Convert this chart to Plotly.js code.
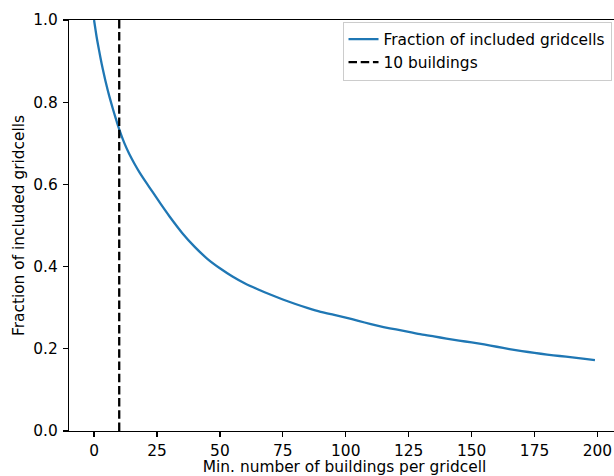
<!DOCTYPE html>
<html>
<head>
<meta charset="utf-8">
<script src="https://cdn.plot.ly/plotly-3.0.1.min.js"></script>
<style>
html, body { margin: 0; padding: 0; overflow: hidden; background: #fff; }
#chart { width: 626px; height: 476px; }
</style>
</head>
<body>
<div id="chart"></div>
<script>
// Data
const minBuildings = [0, 1, 2, 3, 4, 5, 6, 7, 8, 9, 10, 12, 14, 16, 18, 20, 22, 25, 28, 30,
  35, 40, 45, 50, 55, 60, 65, 70, 75, 80, 85, 90, 95, 100, 105, 110, 115, 120, 125, 130,
  135, 140, 145, 150, 155, 160, 165, 170, 175, 180, 185, 190, 195, 199];
const fractionIncluded = [1.000, 0.960, 0.926, 0.894, 0.866, 0.840, 0.816, 0.794, 0.773, 0.753,
  0.734, 0.701, 0.674, 0.651, 0.630, 0.611, 0.593, 0.566, 0.539, 0.522,
  0.482, 0.448, 0.419, 0.396, 0.376, 0.359, 0.345, 0.332, 0.320, 0.309,
  0.299, 0.290, 0.283, 0.276, 0.268, 0.260, 0.253, 0.247, 0.241, 0.235,
  0.230, 0.225, 0.220, 0.2155, 0.2105, 0.2050, 0.1995, 0.1945, 0.1900, 0.1860,
  0.1825, 0.1790, 0.1755, 0.1725];
const thresholdX = [10, 10];
const thresholdY = [0, 1];
const xTicks = [0, 25, 50, 75, 100, 125, 150, 175, 200];
const yTicks = [0.0, 0.2, 0.4, 0.6, 0.8, 1.0];
const yTickLabels = ['0.0', '0.2', '0.4', '0.6', '0.8', '1.0'];
const seriesNames = ['Fraction of included gridcells', '10 buildings'];

const font = { family: 'DejaVu Sans, sans-serif', size: 15.4, color: '#000' };

const traces = [
  {
    x: minBuildings, y: fractionIncluded, type: 'scatter', mode: 'lines',
    name: seriesNames[0], line: { color: '#1f77b4', width: 2.3, shape: 'spline', smoothing: 0.6 }
  },
  {
    x: thresholdX, y: thresholdY, type: 'scatter', mode: 'lines',
    name: seriesNames[1], line: { color: '#000000', width: 2.3, dash: '8.5px,3.7px' }
  }
];

const axisCommon = {
  showgrid: false, zeroline: false, showline: true, mirror: true,
  linecolor: '#000', linewidth: 1.2, ticks: 'outside', ticklen: 5,
  tickwidth: 1.2, tickcolor: '#000', tickfont: font
};

const layout = {
  width: 626, height: 476,
  margin: { l: 69, r: 5.5, t: 20, b: 45 },
  paper_bgcolor: '#fff', plot_bgcolor: '#fff',
  font: font,
  showlegend: true,
  legend: {
    x: 0.9846, xanchor: 'right', y: 0.996, yanchor: 'top',
    bgcolor: 'rgba(255,255,255,0.8)', bordercolor: '#cccccc', borderwidth: 1,
    font: font, itemwidth: 30
  },
  xaxis: Object.assign({}, axisCommon, {
    range: [-9.95, 208.95], tickvals: xTicks, ticktext: xTicks.map(String),
    title: { text: 'Min. number of buildings per gridcell', font: font, standoff: 7 }
  }),
  yaxis: Object.assign({}, axisCommon, {
    range: [0, 1], tickvals: yTicks, ticktext: yTickLabels, ticklabelstandoff: 2,
    title: { text: 'Fraction of included gridcells', font: font, standoff: 4 }
  })
};

Plotly.newPlot('chart', traces, layout, { displayModeBar: false, staticPlot: true });
</script>
</body>
</html>
